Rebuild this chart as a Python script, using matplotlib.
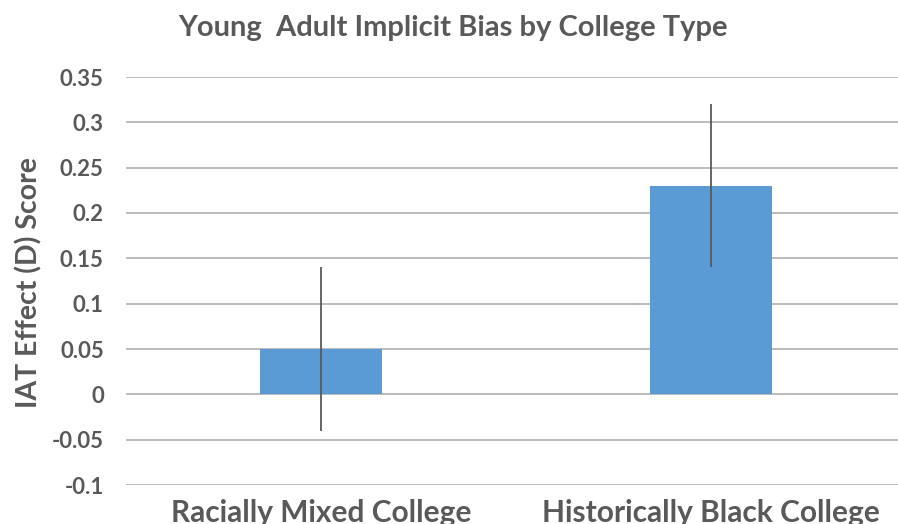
import numpy as np
import matplotlib.pyplot as plt

# Dados
categorias = ['Racially Mixed College', 'Historically Black College']
valores = [0.05, 0.23]
erros = [0.09, 0.09]
yticks = [-0.1, -0.05, 0, 0.05, 0.1, 0.15, 0.2, 0.25, 0.3, 0.35]
ytick_labels = ['-0.1', '-0.05', '0', '0.05', '0.1', '0.15', '0.2', '0.25', '0.3', '0.35']

plt.rcParams['font.family'] = ['Lato', 'DejaVu Sans']
cor_texto = '#595959'

fig = plt.figure(figsize=(8.98, 5.24), dpi=100)
W, H = 898, 524
ax = fig.add_axes([126 / W, 39 / H, (906 - 126) / W, (485 - 77) / H])

x = np.arange(len(categorias))
ax.bar(x, valores, width=122 / 390, color='#5B9BD5', zorder=3)
ax.errorbar(x, valores, yerr=erros, fmt='none', ecolor='#595959', elinewidth=1.3, capsize=0, zorder=4)

ax.set_xlim(-0.5, 1.5)
ax.set_ylim(-0.1, 0.35)
ax.set_yticks(yticks)
ax.set_yticklabels(ytick_labels)
ax.yaxis.grid(True, color='#b0b0b0', linewidth=1.2, zorder=0)
ax.set_axisbelow(True)
for s in ax.spines.values():
    s.set_visible(False)
ax.tick_params(axis='y', length=0, pad=16, labelsize=16, labelcolor=cor_texto)
ax.tick_params(axis='x', length=0, pad=10, labelsize=21.5, labelcolor=cor_texto)
ax.set_xticks(x)
ax.set_xticklabels(categorias, fontweight='bold')
for lbl in ax.get_yticklabels():
    lbl.set_fontweight('bold')

fig.text(453 / W, 1 - 28 / H, 'Young  Adult Implicit Bias by College Type',
         ha='center', va='center', fontsize=21, fontweight='bold', color=cor_texto)
fig.text(29 / W, 1 - 283 / H, 'IAT Effect (D) Score', rotation=90,
         ha='center', va='center', fontsize=20.5, fontweight='bold', color=cor_texto)

fig.savefig('out.png', dpi=100)
